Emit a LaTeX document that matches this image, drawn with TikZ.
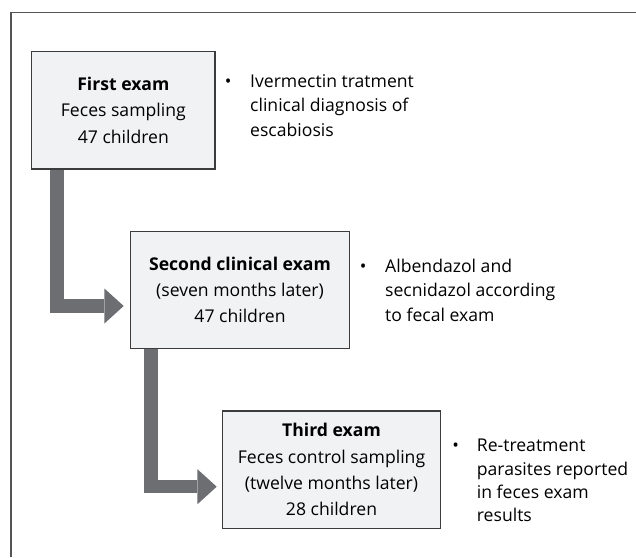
\documentclass[tikz,border=0pt]{standalone}
\usepackage{fontspec}
\setmainfont{Open Sans}
\usetikzlibrary{arrows.meta}
\definecolor{arrowgray}{HTML}{6D6E71}
\definecolor{boxfill}{HTML}{F1F2F4}
\definecolor{boxline}{HTML}{3C3C3C}
\definecolor{framegray}{HTML}{555555}
\begin{document}
\begin{tikzpicture}[x=1pt,y=-1pt,
  box/.style={draw=boxline, line width=1.2pt, fill=boxfill, align=center, inner sep=0pt,
    font=\fontsize{17.6}{26.3}\selectfont},
  side/.style={align=left, inner sep=0pt, anchor=base west,
    font=\fontsize{17.6}{24.3}\selectfont},
  bul/.style={inner sep=0pt, anchor=base, font=\fontsize{17.6}{24.3}\selectfont},
  flow/.style={draw=arrowgray, line width=13.5pt, line join=miter,
    -{Triangle[width=35pt,length=19.3pt,line width=0pt]}}
]
\useasboundingbox (0,0) rectangle (636,557);
\draw[framegray, line width=1.2pt] (636,12.7) -| (11,557);

\node[box, minimum width=183.3pt, minimum height=117.3pt] (b1) at (123.35,110.35)
  {\textbf{First exam}\\Feces sampling\\47 children};
\node[box, minimum width=218.6pt, minimum height=116.6pt] (b2) at (240,290)
  {\textbf{Second clinical exam}\\(seven months later)\\47 children};
\node[box, minimum width=218.4pt, minimum height=117.3pt] (b3) at (331.5,469.7)
  {\textbf{Third exam}\\Feces control sampling\\(twelve months later)\\28 children};

\coordinate (c1) at (57,0);
\coordinate (c2) at (151,0);
\draw[flow, shorten >=6.4pt] (b1.south -| c1) |- ([yshift=-16pt]b2.west);
\draw[flow, shorten >=5pt] (b2.south -| c2) |- ([yshift=-17pt]b3.west);

\node[bul] (d1) at (228.3,87.3) {•};
\node[side] (s1) at (250,136) {Ivermectin tratment\\clinical diagnosis of\\escabiosis};
\node[bul] (d2) at (363.3,272) {•};
\node[side] (s2) at (385,321) {Albendazol and\\secnidazol according\\to fecal exam};
\node[bul] (d3) at (455.7,451.7) {•};
\node[side, font=\fontsize{17.6}{23.3}\selectfont] (s3) at (476.7,521.7)
  {Re-treatment\\parasites reported\\in feces exam\\results};
\end{tikzpicture}
\end{document}
